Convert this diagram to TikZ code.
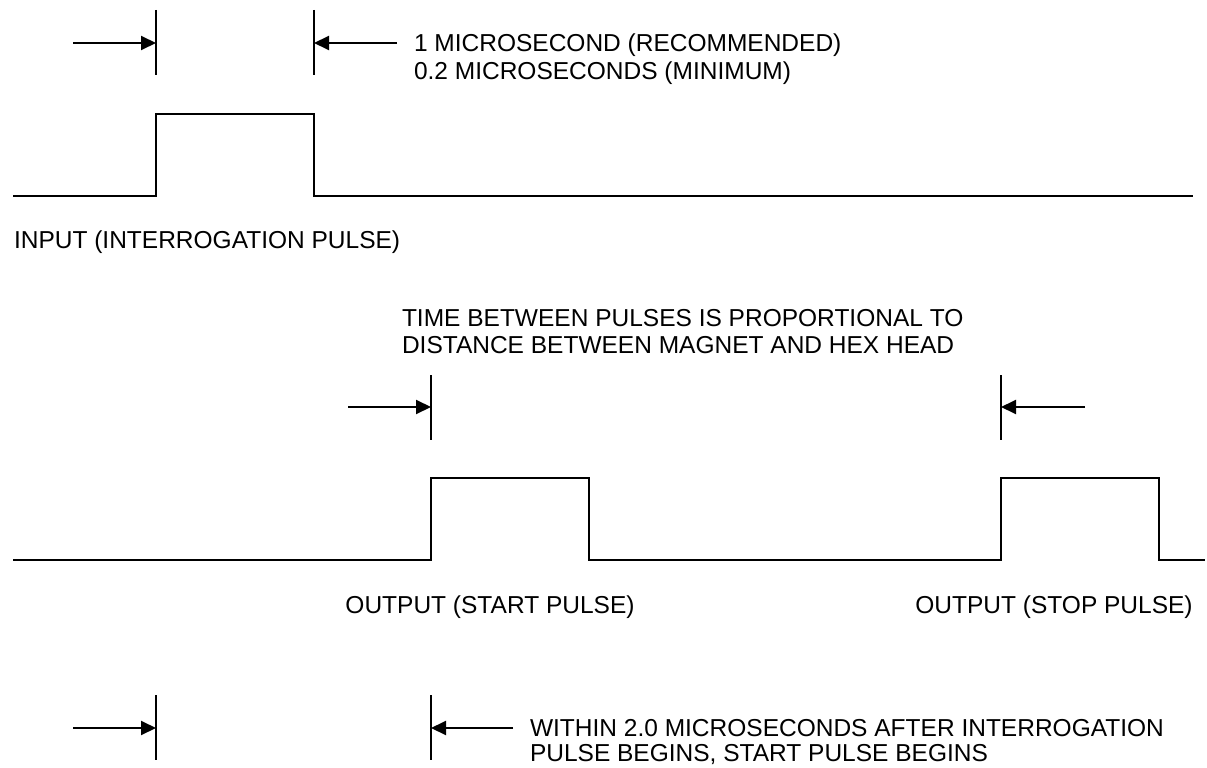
\documentclass[tikz,border=0pt]{standalone}
\usepackage{fontspec}
\setmainfont{Liberation Sans}
\usetikzlibrary{arrows.meta}
\tikzset{
  dim/.style={-{Triangle[length=15pt,width=14pt]}},
  tick/.style={line width=2pt},
  lbl/.style={inner sep=0pt,align=left,font=\fontsize{24.5}{27.5}\selectfont},
}
\begin{document}
\begin{tikzpicture}[x=1pt,y=-1pt,line width=2pt]
        \useasboundingbox (0,0) rectangle (1207,768);
        % input pulse
        \draw (13,196) -- (156,196) -- (156,114) -- (314,114) -- (314,196) -- (1193,196);
        \coordinate (ia) at (73,43);
        \coordinate (ib) at (156,43);
        \coordinate (ic) at (397,43);
        \coordinate (id) at (314,43);
        \draw[tick] (156,10) -- (156,75);
        \draw[tick] (314,10) -- (314,75);
        \draw[dim] (ia) -- (ib);
        \draw[dim] (ic) -- (id);
        \node[lbl,anchor=west] (width) at (413,59) {1 MICROSECOND (RECOMMENDED)\\0.2 MICROSECONDS (MINIMUM)};
        \node[lbl,anchor=west] (input) at (13,242) {INPUT (INTERROGATION PULSE)};
        % output pulses
        \draw (13,560) -- (431,560) -- (431,478) -- (589,478) -- (589,560) -- (1001,560)
                -- (1001,478) -- (1159,478) -- (1159,560) -- (1205,560);
        \coordinate (oa) at (348,407);
        \coordinate (ob) at (431,407);
        \coordinate (oc) at (1085,407);
        \coordinate (od) at (1001,407);
        \draw[tick] (431,375) -- (431,440);
        \draw[tick] (1001,375) -- (1001,440);
        \draw[dim] (oa) -- (ob);
        \draw[dim] (oc) -- (od);
        \node[lbl,anchor=west] (time) at (401,331.5) {TIME BETWEEN PULSES IS PROPORTIONAL TO\\DISTANCE BETWEEN MAGNET AND HEX HEAD};
        \node[lbl] (start) at (490,607) {OUTPUT (START PULSE)};
        \node[lbl] (stop) at (1054,607) {OUTPUT (STOP PULSE)};
        % delay
        \coordinate (da) at (73,728);
        \coordinate (db) at (156,728);
        \coordinate (dc) at (513,728);
        \coordinate (dd) at (431,728);
        \draw[tick] (156,695) -- (156,760);
        \draw[tick] (431,695) -- (431,760);
        \draw[dim] (da) -- (db);
        \draw[dim] (dc) -- (dd);
        \node[lbl,anchor=west,font=\fontsize{24.5}{25.5}\selectfont] (delay) at (529,742)
                {WITHIN 2.0 MICROSECONDS AFTER INTERROGATION\\PULSE BEGINS, START PULSE BEGINS};
\end{tikzpicture}
\end{document}
